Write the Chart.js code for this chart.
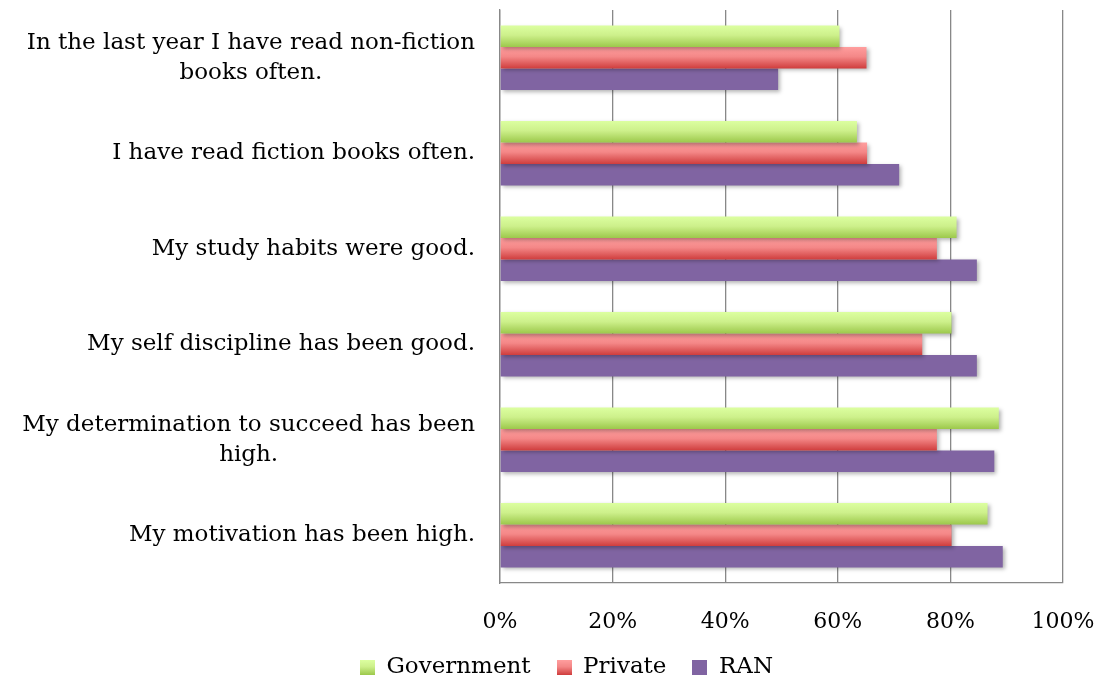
<!DOCTYPE html>
<html>
<head>
<meta charset="utf-8">
<script src="https://cdn.jsdelivr.net/npm/chart.js@4.4.1/dist/chart.umd.min.js"></script>
<style>
  html, body { margin: 0; padding: 0; background: #fff; }
  #wrap { width: 1098px; height: 683px; }
</style>
</head>
<body>
<div id="wrap"><canvas id="chart"></canvas></div>
<script>
// Survey statements (top to bottom)
const categories = [
    ['In the last year I have read non-fiction', 'books often.'],
    'I have read fiction books often.',
    'My study habits were good.',
    'My self discipline has been good.',
    ['My determination to succeed has been', 'high.'],
    'My motivation has been high.'
];
const seriesNames = ['Government', 'Private', 'RAN'];
const government = [60.3, 63.4, 81.1, 80.2, 88.6, 86.6];
const privateSchools = [65.1, 65.2, 77.6, 75.0, 77.6, 80.2];
const ran = [49.4, 70.9, 84.7, 84.7, 87.8, 89.3];
const xTickStep = 20;
const xMax = 100;

const FONT = 'DejaVu Serif';
const CAT_PCT = 0.675;

const greenStops = [[0, '#dcffa0'], [0.45, '#cdf08b'], [1, '#9cc84b']];
const redStops = [[0, '#ff9e9e'], [0.45, '#f48787'], [1, '#cf3d3d']];
const purpleStops = [[0, '#8064a2'], [1, '#8064a2']];

// vertical gradient for each bar, worked out from the category scale
function barFill(stops, fallback) {
    return function(c) {
        const chart = c.chart;
        const area = chart.chartArea;
        const y = chart.scales.y;
        if (!area || !y || c.dataIndex === undefined) return fallback;
        const catH = area.height / categories.length;
        const group = catH * CAT_PCT;
        const bh = group / 3;
        const top = y.getPixelForValue(c.dataIndex) - group / 2 + c.datasetIndex * bh;
        const g = chart.ctx.createLinearGradient(0, top, 0, top + bh);
        stops.forEach(s => g.addColorStop(s[0], s[1]));
        return g;
    };
}

// little gradient squares for the legend
function swatch(stops) {
    const cv = document.createElement('canvas');
    cv.width = 15; cv.height = 15;
    const x = cv.getContext('2d');
    const g = x.createLinearGradient(0, 0, 0, 15);
    stops.forEach(s => g.addColorStop(s[0], s[1]));
    x.fillStyle = g;
    x.fillRect(0, 0, 15, 15);
    return cv;
}
const swatches = [swatch(greenStops), swatch(redStops), swatch(purpleStops)];

// soft drop shadow behind the bars
const barShadow = {
    id: 'barShadow',
    beforeDatasetsDraw(chart) {
        const c = chart.ctx;
        c.save();
        c.shadowColor = 'rgba(0,0,0,0.3)';
        c.shadowBlur = 4;
        c.shadowOffsetX = 2;
        c.shadowOffsetY = 2;
    },
    afterDatasetsDraw(chart) {
        chart.ctx.restore();
    }
};

// two-line labels: centre the lines on each other, keep the block right aligned
const centerMultiline = {
    id: 'centerMultiline',
    beforeDraw(chart) {
        const scale = chart.scales.y;
        const items = scale.getLabelItems(chart.chartArea);
        const ctx = chart.ctx;
        items.forEach(item => {
            if (!Array.isArray(item.label) || item._centered) return;
            ctx.save();
            ctx.font = item.font.string;
            const widest = Math.max(...item.label.map(l => ctx.measureText(l).width));
            ctx.restore();
            item.options.translation[0] -= widest / 2;
            item.options.textAlign = 'center';
            item._centered = true;
        });
    }
};

// the legend sits a little right of the canvas centre
const legendNudge = {
    id: 'legendNudge',
    afterLayout(chart) {
        if (chart.legend) {
            chart.legend.left += 35;
            chart.legend.right += 35;
        }
    }
};

const chart = new Chart(document.getElementById('chart'), {
    type: 'bar',
    data: {
        labels: categories,
        datasets: [
            { label: seriesNames[0], data: government, backgroundColor: barFill(greenStops, '#c2e67c') },
            { label: seriesNames[1], data: privateSchools, backgroundColor: barFill(redStops, '#ee7474') },
            { label: seriesNames[2], data: ran, backgroundColor: barFill(purpleStops, '#8064a2') }
        ]
    },
    options: {
        indexAxis: 'y',
        responsive: true,
        maintainAspectRatio: false,
        animation: false,
        datasets: {
            bar: { categoryPercentage: CAT_PCT, barPercentage: 1, borderWidth: 0 }
        },
        layout: { padding: { top: 10, right: 35, left: 0, bottom: -6 } },
        plugins: {
            tooltip: { enabled: false },
            legend: {
                position: 'bottom',
                labels: {
                    usePointStyle: true,
                    boxWidth: 15,
                    boxHeight: 15,
                    padding: 26,
                    color: '#000',
                    font: { family: FONT, size: 23, lineHeight: 1 },
                    generateLabels(ch) {
                        const items = Chart.defaults.plugins.legend.labels.generateLabels(ch);
                        items.forEach((it, i) => { it.pointStyle = swatches[i]; });
                        return items;
                    }
                }
            }
        },
        scales: {
            x: {
                min: 0,
                max: xMax,
                afterFit(s) {
                    s.height = 47;
                    s.paddingLeft = 0;
                    s.paddingRight = 0;
                },
                ticks: {
                    stepSize: xTickStep,
                    padding: 26,
                    color: '#000',
                    font: { family: FONT, size: 22 },
                    callback: v => v + '%'
                },
                grid: { color: '#888', lineWidth: 1.3, drawTicks: false },
                border: { color: '#888', width: 1.3 }
            },
            y: {
                afterFit(s) {
                    s.width = 500;
                    s.paddingTop = 0;
                    s.paddingBottom = 0;
                },
                ticks: {
                    padding: 25,
                    color: '#000',
                    font: { family: FONT, size: 23, lineHeight: 1.3 }
                },
                grid: { display: false, drawTicks: false },
                border: { display: true, color: '#888', width: 1.3 }
            }
        }
    },
    plugins: [barShadow, centerMultiline, legendNudge]
});
</script>
</body>
</html>
